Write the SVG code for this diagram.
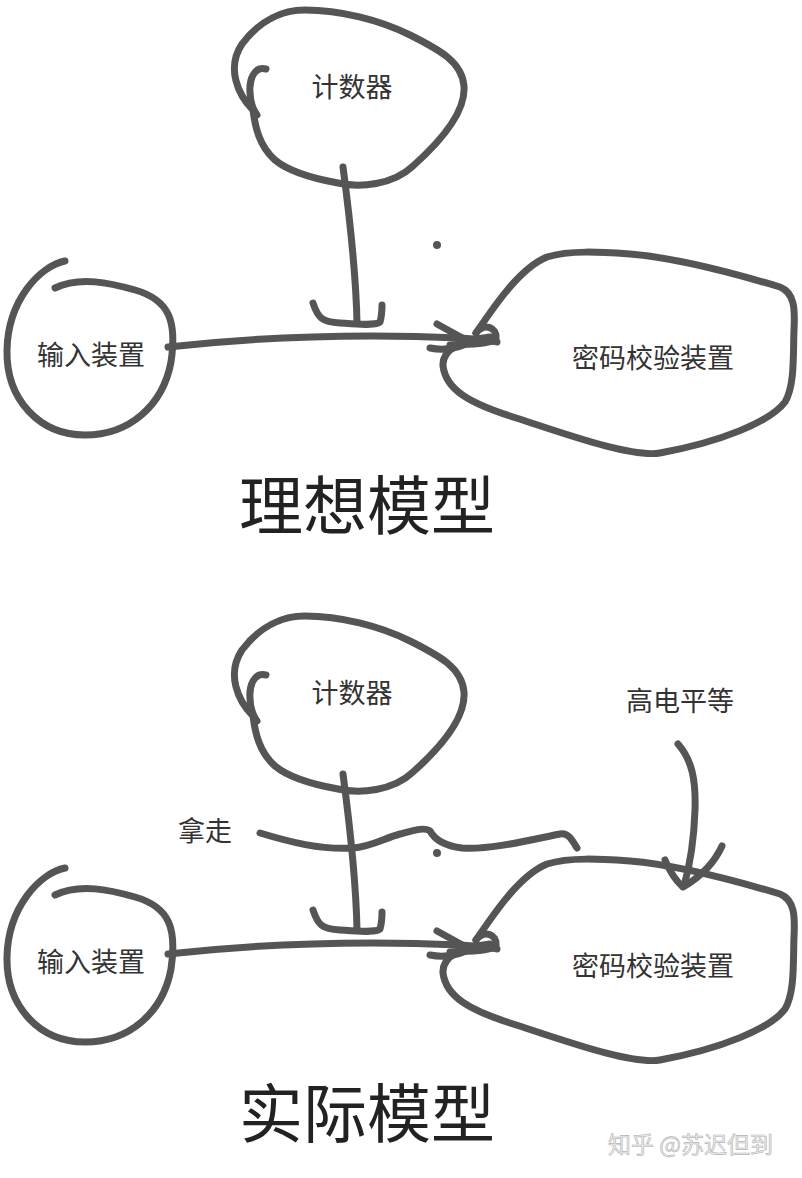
<svg xmlns="http://www.w3.org/2000/svg" width="802" height="1178" viewBox="0 0 802 1178">
<style>
.s{fill:none;stroke:#555;stroke-width:7;stroke-linecap:round;stroke-linejoin:round}
.t{font-family:"Noto Sans CJK SC","Noto Sans",sans-serif;font-size:27px;fill:#333;text-anchor:middle}
.h{font-family:"Noto Sans CJK SC","Noto Sans",sans-serif;font-size:64px;fill:#222;text-anchor:middle}
.w{font-family:"Noto Sans CJK SC","Noto Sans",sans-serif;font-size:23px;fill:#ececec;stroke:#b4b4b4;stroke-width:0.6}
.d{fill:#555}
</style>
<rect width="802" height="1178" fill="#fff"/>
<defs>
<g id="counterShape">
<path class="s" d="M 253,110 C 238,95 226,68 242,44 C 260,20 283,10 305,10 C 340,10 380,20 410,35 C 440,50 462,62 464,86 C 466,112 440,142 413,166 C 393,185 360,188 338,183 C 310,178 287,170 275,160 C 259,146 255,126 253,110"/>
<path class="s" d="M 266,69 C 254,66 249,80 250,92 C 250,102 252,108 257,115"/>
</g>
<g id="inputShape">
<path class="s" d="M 65,261 C 40,266 8,300 7,350 C 6,400 40,435 85,435 C 130,435 163,405 171,362 C 177,322 170,300 135,290 C 110,283 80,276 55,288"/>
</g>
<g id="pwShape">
<path class="s" d="M 476,333 C 495,305 520,268 547,257 C 570,250 600,252 630,254 C 680,258 740,275 780,287 C 795,293 795,310 794,330 C 793,355 795,385 785,402 C 770,422 720,442 660,453 C 630,458 560,432 510,416 C 470,403 446,390 443,366 C 442,350 458,341 490,337"/>
<path class="s" d="M 476,333 C 485,322 497,328 496,338 C 494,344 470,344 450,345"/>
</g>
<g id="vArrow">
<path class="s" d="M 343,167 C 350,220 356,270 357,323"/>
<path class="s" d="M 313,303 C 318,318 322,322 340,323 C 360,324 375,326 380,322 C 382,315 382,310 382,305"/>
</g>
<g id="hArrow">
<path class="s" d="M 168,347 C 250,338 350,333 460,338 C 480,339 490,341 497,342"/>
<path class="s" d="M 437,324 L 466,340"/>
<path class="s" d="M 430,348 C 440,350 452,350 466,344"/>
</g>
</defs>

<g id="nodes-ideal">
<g id="counter1"><use href="#counterShape"/><text class="t" x="352" y="97">计数器</text></g>
<g id="input1"><use href="#inputShape"/><text class="t" x="91" y="365">输入装置</text></g>
<g id="verify1"><use href="#pwShape"/><text class="t" x="653" y="368">密码校验装置</text></g>
<circle class="d" cx="437" cy="245" r="4"/>
<text class="h" x="367" y="529">理想模型</text>
</g>
<g id="connectors-ideal">
<use href="#vArrow"/>
<use href="#hArrow"/>
</g>

<g id="nodes-real">
<g id="counter2"><use href="#counterShape" transform="translate(0,606)"/><text class="t" x="352" y="703">计数器</text></g>
<g id="input2"><use href="#inputShape" transform="translate(0,607)"/><text class="t" x="91" y="972">输入装置</text></g>
<g id="verify2"><use href="#pwShape" transform="translate(0,607)"/><text class="t" x="653" y="976">密码校验装置</text></g>
<g id="label-high"><text class="t" x="680" y="711">高电平等</text></g>
<g id="label-take"><text class="t" x="205" y="841">拿走</text></g>
<circle class="d" cx="437" cy="853" r="4"/>
<text class="h" x="367" y="1137">实际模型</text>
</g>
<g id="connectors-real">
<use href="#vArrow" transform="translate(0,607)"/>
<use href="#hArrow" transform="translate(0,607)"/>
<path class="s" d="M 260,833 C 290,842 320,850 353,848 C 370,847 385,838 400,834 C 415,830 425,827 430,831 C 435,840 445,846 462,848 C 490,850 530,840 560,834 C 568,832 572,840 577,848"/>
<path class="s" d="M 678,744 C 692,760 696,780 695,810 C 694,840 690,865 684,886"/>
<path class="s" d="M 665,860 C 670,872 675,880 683,887 C 695,880 712,868 722,846"/>
</g>
<text class="w" x="608" y="1153">知乎 @苏迟但到</text>
</svg>
